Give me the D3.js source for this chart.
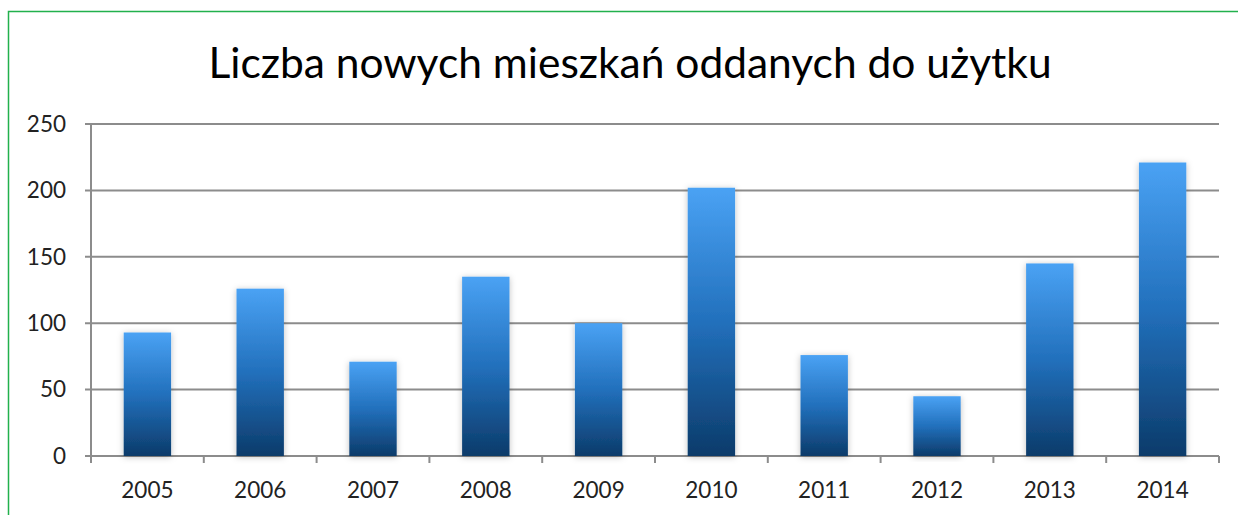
<!DOCTYPE html>
<html>
<head>
<meta charset="utf-8">
<style>
body { margin: 0; background: #fff; }
text { font-family: Lato, "Open Sans", sans-serif; fill: #222; }
</style>
</head>
<body>
<script src="https://cdn.jsdelivr.net/npm/d3@7"></script>
<script>

var title = "Liczba nowych mieszkań oddanych do użytku";
var years = ["2005", "2006", "2007", "2008", "2009", "2010", "2011", "2012", "2013", "2014"];
var values = [93, 126, 71, 135, 100, 202, 76, 45, 145, 221];
var yTicks = [0, 50, 100, 150, 200, 250];

var width = 1238, height = 515;
var margin = {left: 91, right: 19, top: 124, bottom: 59};

var svg = d3.select("body").append("svg")
    .attr("width", width)
    .attr("height", height);

var defs = svg.append("defs");
var grad = defs.append("linearGradient")
    .attr("id", "barGrad")
    .attr("x1", 0).attr("y1", 0).attr("x2", 0).attr("y2", 1);
grad.append("stop").attr("offset", "0%").attr("stop-color", "#4aa2f4");
grad.append("stop").attr("offset", "50%").attr("stop-color", "#2270bc");
grad.append("stop").attr("offset", "100%").attr("stop-color", "#0c3b6a");

var shadow = defs.append("filter").attr("id", "shadow")
    .attr("x", "-20%").attr("y", "-10%").attr("width", "140%").attr("height", "120%");
shadow.append("feDropShadow")
    .attr("dx", 0).attr("dy", 1).attr("stdDeviation", 3)
    .attr("flood-color", "#000").attr("flood-opacity", 0.25);

// green frame
svg.append("rect")
    .attr("x", 8.5).attr("y", 11.5)
    .attr("width", width + 20).attr("height", height + 20)
    .attr("fill", "none")
    .attr("stroke", "#22b14c")
    .attr("stroke-width", 1.5);

var x = d3.scaleBand()
    .domain(years)
    .range([margin.left, width - margin.right])
    .paddingInner(0.58)
    .paddingOuter(0.29);

var y = d3.scaleLinear()
    .domain([0, 250])
    .range([height - margin.bottom, margin.top]);

// gridlines
svg.append("g")
    .selectAll("line")
    .data(yTicks)
    .enter().append("line")
    .attr("x1", margin.left - 6)
    .attr("x2", width - margin.right)
    .attr("y1", function(d) { return y(d); })
    .attr("y2", function(d) { return y(d); })
    .attr("stroke", "#8c8c8c")
    .attr("stroke-width", 2);

// y labels
svg.append("g")
    .selectAll("text")
    .data(yTicks)
    .enter().append("text")
    .attr("x", margin.left - 25)
    .attr("y", function(d) { return y(d); })
    .attr("dy", "0.35em")
    .attr("text-anchor", "end")
    .style("font-size", "22.5px")
    .text(function(d) { return d; });

// vertical axis line
svg.append("line")
    .attr("x1", margin.left).attr("x2", margin.left)
    .attr("y1", y(250)).attr("y2", y(0) + 6)
    .attr("stroke", "#8c8c8c").attr("stroke-width", 2);

// category ticks
var bounds = d3.range(years.length + 1).map(function(i) { return margin.left + i * (width - margin.left - margin.right) / years.length; });
svg.append("g")
    .selectAll("line")
    .data(bounds)
    .enter().append("line")
    .attr("x1", function(d) { return d; })
    .attr("x2", function(d) { return d; })
    .attr("y1", y(0))
    .attr("y2", y(0) + 7)
    .attr("stroke", "#8c8c8c")
    .attr("stroke-width", 2);

// bars
svg.append("g")
    .selectAll("rect")
    .data(values)
    .enter().append("rect")
    .attr("x", function(d, i) { return x(years[i]); })
    .attr("y", function(d) { return y(d); })
    .attr("width", x.bandwidth())
    .attr("height", function(d) { return y(0) - y(d); })
    .attr("fill", "url(#barGrad)")
    .attr("filter", "url(#shadow)");

// x labels
svg.append("g")
    .selectAll("text")
    .data(years)
    .enter().append("text")
    .attr("x", function(d) { return x(d) + x.bandwidth() / 2; })
    .attr("y", y(0) + 42)
    .attr("text-anchor", "middle")
    .style("font-size", "22.5px")
    .text(function(d) { return d; });

svg.append("text")
    .attr("x", 630)
    .attr("y", 78)
    .attr("text-anchor", "middle")
    .style("font-size", "42.5px")
    .style("fill", "#000")
    .text(title);

</script>
</body>
</html>
